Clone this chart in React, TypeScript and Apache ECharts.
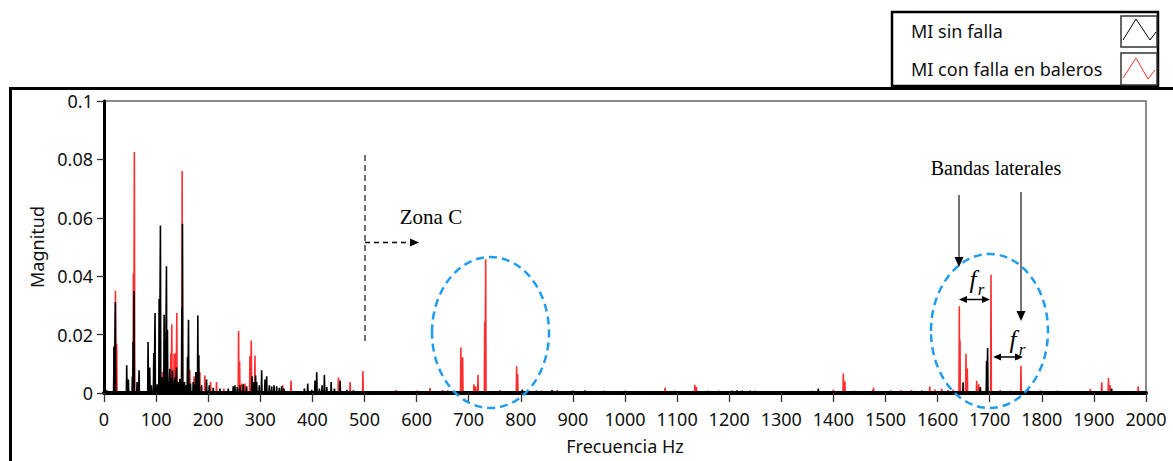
import React, { useEffect, useRef } from "react";
import * as echarts from "echarts";

// Spectrum of the healthy motor: [frequency Hz, magnitude]
const sinFallaPeaks: [number, number][] = [
  [3, 0.0012], [6, 0.0008],
  [19.2, 0.0158], [21.8, 0.0312], [43.6, 0.0095], [46.8, 0.0046], [54.5, 0.0057],
  [55.8, 0.0175], [57.7, 0.0349], [63.5, 0.0038], [67.3, 0.0078], [84.6, 0.0175],
  [87.8, 0.0087], [91, 0.0026], [95.5, 0.0137], [98, 0.0274], [102, 0.003],
  [105.8, 0.0322], [108.3, 0.0574], [111.5, 0.0055], [115.4, 0.0268], [117.3, 0.0132],
  [119.9, 0.0434], [121.8, 0.0217], [124.4, 0.0038], [126.3, 0.0083], [128.8, 0.0049],
  [131.4, 0.0078], [134, 0.0043], [136.5, 0.0055], [139.1, 0.0087], [142.3, 0.0038],
  [145.5, 0.0049], [149.4, 0.0292], [150.6, 0.058], [154.5, 0.0038], [157, 0.0026],
  [160.3, 0.0123], [162.2, 0.0251], [166, 0.0032], [171.2, 0.0038], [174.4, 0.003],
  [176.3, 0.0072], [180.1, 0.0265], [182, 0.0129], [187.2, 0.0026], [196.8, 0.0046],
  [202, 0.0026], [209.6, 0.0018], [222.4, 0.0015], [238.5, 0.0015], [248, 0.0023],
  [251.3, 0.0026], [255.8, 0.002], [261, 0.0026], [267.3, 0.003], [273.7, 0.0023],
  [284, 0.0057], [287.8, 0.0038], [291, 0.006], [293, 0.0038], [298, 0.0026],
  [302.6, 0.0078], [309, 0.0046], [312.2, 0.0057], [317.3, 0.0026], [321.8, 0.0023],
  [326.3, 0.0026], [331.4, 0.0023], [336.5, 0.0018], [341, 0.0023], [345.5, 0.0015],
  [384.6, 0.0015], [391, 0.0032], [398.7, 0.0011], [405, 0.0043], [408.3, 0.0071],
  [413.5, 0.0015], [418.6, 0.0026], [423, 0.0062], [427.6, 0.002], [436, 0.0038],
  [442.3, 0.0015], [453.2, 0.0043], [466, 0.0011], [478.8, 0.0009],
  [803, 0.0012], [830, 0.0008], [860, 0.001], [900, 0.0008],
  [1205, 0.0008], [1215, 0.0009], [1225, 0.0008], [1240, 0.0008], [1371, 0.0015],
  [1475, 0.0008], [1649, 0.0037], [1682, 0.002], [1694, 0.011], [1696, 0.0154],
  [1934, 0.0015],
];

// Spectrum of the motor with bearing fault: [frequency Hz, magnitude]
const conFallaPeaks: [number, number][] = [
  [19.2, 0.016], [22, 0.035], [24.4, 0.0169], [56.4, 0.0409], [58.3, 0.0825],
  [112.2, 0.0072], [128.2, 0.0135], [130.1, 0.0235], [134.6, 0.0135], [137.8, 0.0137],
  [139.7, 0.0274], [150, 0.076], [164.7, 0.008], [173, 0.0057], [184, 0.0072],
  [193.6, 0.006], [204.5, 0.0038], [216, 0.0038], [230, 0.0015], [258.3, 0.0212],
  [260.3, 0.0108], [264.7, 0.0032], [270.5, 0.0032], [280.1, 0.0127], [282.7, 0.018],
  [289.7, 0.0128], [343, 0.0026], [359, 0.0043], [450, 0.0053], [472.4, 0.0038],
  [497, 0.0075], [560, 0.001], [600, 0.0008], [625.7, 0.0017], [650, 0.001],
  [660, 0.0009], [685, 0.0156], [688.4, 0.0122], [710, 0.003], [713.4, 0.0022],
  [717.9, 0.0062], [730.7, 0.0244], [732.6, 0.0458], [760, 0.001], [792, 0.0092],
  [794, 0.0065], [840, 0.0008], [870, 0.001], [923, 0.001], [960, 0.0008],
  [1000, 0.0008], [1077, 0.0018], [1095, 0.0008], [1134, 0.0028], [1137, 0.002],
  [1160, 0.0008], [1180, 0.0008], [1250, 0.0008], [1300, 0.0006], [1360, 0.0008],
  [1400, 0.0012], [1419, 0.0067], [1422, 0.004], [1440, 0.0008], [1477, 0.0018],
  [1510, 0.0009], [1530, 0.0009], [1550, 0.001], [1570, 0.0009], [1585, 0.0022],
  [1595, 0.0012], [1608, 0.0014], [1620, 0.001], [1630, 0.0012], [1641.7, 0.0297],
  [1643, 0.018], [1654.5, 0.0134], [1657, 0.0084], [1675, 0.0042], [1679, 0.003],
  [1702.5, 0.0405], [1720, 0.001], [1740, 0.0008], [1760, 0.0093], [1774, 0.0015],
  [1797, 0.0009], [1830, 0.0008], [1893, 0.0014], [1915, 0.0037], [1928, 0.0051],
  [1931, 0.0027], [1985, 0.0023],
];

const seriesNames = ["MI sin falla", "MI con falla en baleros"];
const freqRange = [0, 2000];
const freqStep = 100;
const magRange = [0, 0.1];
const magStep = 0.02;

// Turn each spectral line into a narrow spike rising from zero.
function spikes(peaks: [number, number][]): [number, number][] {
  const sorted = [...peaks].sort((a, b) => a[0] - b[0]);
  const out: [number, number][] = [[freqRange[0], 0]];
  for (const [f, m] of sorted) {
    out.push([f - 0.7, 0], [f, m], [f + 0.7, 0]);
  }
  out.push([freqRange[1], 0]);
  return out;
}

const SANS = "'Noto Sans', 'Open Sans', sans-serif";
const SERIF = "'Liberation Serif', 'DejaVu Serif', serif";
const BLUE = "#1e9cf0";
const RED = "#ff2e2e";
const INK = "#111";

function arrowHead(tipX: number, tipY: number, dir: "down" | "left" | "right", size = 8) {
  const w = size * 0.45;
  let points: number[][];
  if (dir === "down") points = [[tipX - w, tipY - size], [tipX, tipY], [tipX + w, tipY - size]];
  else if (dir === "right") points = [[tipX - size, tipY - w], [tipX, tipY], [tipX - size, tipY + w]];
  else points = [[tipX + size, tipY - w], [tipX, tipY], [tipX + size, tipY + w]];
  return { type: "polygon", z: 100, shape: { points }, style: { fill: "#000" } };
}

function line(x1: number, y1: number, x2: number, y2: number, style: any) {
  return { type: "line", z: 100, shape: { x1, y1, x2, y2 }, style };
}

export default function App() {
  const ref = useRef<HTMLDivElement>(null);

  useEffect(() => {
    if (!ref.current) return;
    const chart = echarts.init(ref.current, undefined, { renderer: "svg" });

    const graphic: any[] = [
      // outer frame
      { type: "rect", z: 90, shape: { x: 10.5, y: 88.5, width: 1300, height: 500 }, style: { fill: "none", stroke: "#000", lineWidth: 3 } },
      // legend panel
      { type: "rect", z: 95, shape: { x: 892, y: 12, width: 266, height: 74 }, style: { fill: "#fff", stroke: "#000", lineWidth: 2.5 } },
      { type: "text", z: 96, x: 911, y: 31, style: { text: seriesNames[0], font: `18px ${SANS}`, fill: INK, verticalAlign: "middle" } },
      { type: "text", z: 96, x: 911, y: 69, style: { text: seriesNames[1], font: `18px ${SANS}`, fill: INK, verticalAlign: "middle" } },
      { type: "rect", z: 96, shape: { x: 1121, y: 16, width: 36, height: 31 }, style: { fill: "#fff", stroke: "#333", lineWidth: 1.5 } },
      { type: "rect", z: 96, shape: { x: 1121, y: 53, width: 36, height: 32 }, style: { fill: "#fff", stroke: "#333", lineWidth: 1.5 } },
      { type: "polyline", z: 97, shape: { points: [[1123, 40], [1136, 19], [1150, 40], [1156, 32]] }, style: { stroke: "#000", lineWidth: 1, fill: "none" } },
      { type: "polyline", z: 97, shape: { points: [[1123, 78], [1136, 58], [1148, 79], [1155, 70]] }, style: { stroke: RED, lineWidth: 1, fill: "none" } },

      // Zona C marker
      line(365, 155, 365, 343, { stroke: "#333", lineWidth: 1.4, lineDash: [6, 4] }),
      line(365, 242.5, 411, 242.5, { stroke: "#000", lineWidth: 1.4, lineDash: [5, 4] }),
      arrowHead(419, 242.5, "right", 9),
      { type: "text", z: 100, x: 431, y: 217, style: { text: "Zona C", font: `21px ${SERIF}`, fill: "#000", align: "center", verticalAlign: "middle" } },

      // highlighted regions
      { type: "ellipse", z: 100, shape: { cx: 490.5, cy: 332.5, rx: 58.5, ry: 75.5 }, style: { fill: "none", stroke: BLUE, lineWidth: 2.5, lineDash: [8, 5] } },
      { type: "ellipse", z: 100, shape: { cx: 989.5, cy: 331, rx: 58.5, ry: 77 }, style: { fill: "none", stroke: BLUE, lineWidth: 2.5, lineDash: [8, 5] } },

      // side bands
      { type: "text", z: 100, x: 996, y: 168, style: { text: "Bandas laterales", font: `20px ${SERIF}`, fill: "#000", align: "center", verticalAlign: "middle" } },
      line(959, 195, 959, 258, { stroke: "#444", lineWidth: 1.5 }),
      arrowHead(959, 267, "down", 10),
      line(1021, 192, 1021, 312, { stroke: "#444", lineWidth: 1.5 }),
      arrowHead(1021, 321, "down", 10),

      line(966, 299.5, 983, 299.5, { stroke: "#000", lineWidth: 1.5 }),
      arrowHead(959, 299.5, "left", 8),
      arrowHead(990, 299.5, "right", 8),
      line(1000, 357, 1016, 357, { stroke: "#000", lineWidth: 1.5 }),
      arrowHead(993, 357, "left", 8),
      arrowHead(1023, 357, "right", 8),

      { type: "text", z: 100, x: 973, y: 279, style: { text: "f", font: `italic 25px ${SERIF}`, fill: "#000", align: "center", verticalAlign: "middle" } },
      { type: "text", z: 100, x: 981, y: 289, style: { text: "r", font: `italic 17px ${SERIF}`, fill: "#000", align: "center", verticalAlign: "middle" } },
      { type: "text", z: 100, x: 1013, y: 339, style: { text: "f", font: `italic 25px ${SERIF}`, fill: "#000", align: "center", verticalAlign: "middle" } },
      { type: "text", z: 100, x: 1022, y: 349, style: { text: "r", font: `italic 17px ${SERIF}`, fill: "#000", align: "center", verticalAlign: "middle" } },
    ];

    chart.setOption({
      animation: false,
      grid: {
        left: 104, right: 27, top: 101, bottom: 68,
        show: true, borderColor: "#666", borderWidth: 1.5, backgroundColor: "#fff",
      },
      xAxis: {
        type: "value",
        min: freqRange[0], max: freqRange[1], interval: freqStep,
        z: 10,
        name: "Frecuencia Hz",
        nameLocation: "middle",
        nameGap: 44,
        nameTextStyle: { fontFamily: SANS, fontSize: 18, color: INK },
        axisLine: { lineStyle: { color: "#000", width: 4 } },
        axisTick: { length: 9, lineStyle: { color: "#333", width: 1.3 } },
        axisLabel: {
          fontFamily: SANS, fontSize: 18, color: INK, margin: 17,
          formatter: (v: number) => String(v),
        },
        splitLine: { show: false },
      },
      yAxis: {
        type: "value",
        min: magRange[0], max: magRange[1], interval: magStep,
        z: 10,
        name: "Magnitud",
        nameLocation: "middle",
        nameGap: 53,
        nameTextStyle: { fontFamily: SANS, fontSize: 18, color: INK },
        axisLine: { show: true, lineStyle: { color: "#000", width: 3 } },
        axisTick: { show: true, length: 7, lineStyle: { color: "#333", width: 1.3 } },
        axisLabel: {
          fontFamily: SANS, fontSize: 18, color: INK, margin: 11,
          formatter: (v: number) => String(Number(v.toFixed(2))),
        },
        splitLine: { show: false },
      },
      series: [
        {
          name: seriesNames[1],
          type: "line",
          data: spikes(conFallaPeaks),
          showSymbol: false,
          silent: true,
          z: 2,
          lineStyle: { color: RED, width: 1.6 },
        },
        {
          name: seriesNames[0],
          type: "line",
          data: spikes(sinFallaPeaks),
          showSymbol: false,
          silent: true,
          z: 3,
          lineStyle: { color: "#000", width: 1.6 },
        },
      ],
      graphic,
    });

    return () => chart.dispose();
  }, []);

  return (
    <div
      ref={ref}
      style={{ position: "absolute", left: 0, top: 0, width: 1173, height: 461, background: "#fff" }}
    />
  );
}
